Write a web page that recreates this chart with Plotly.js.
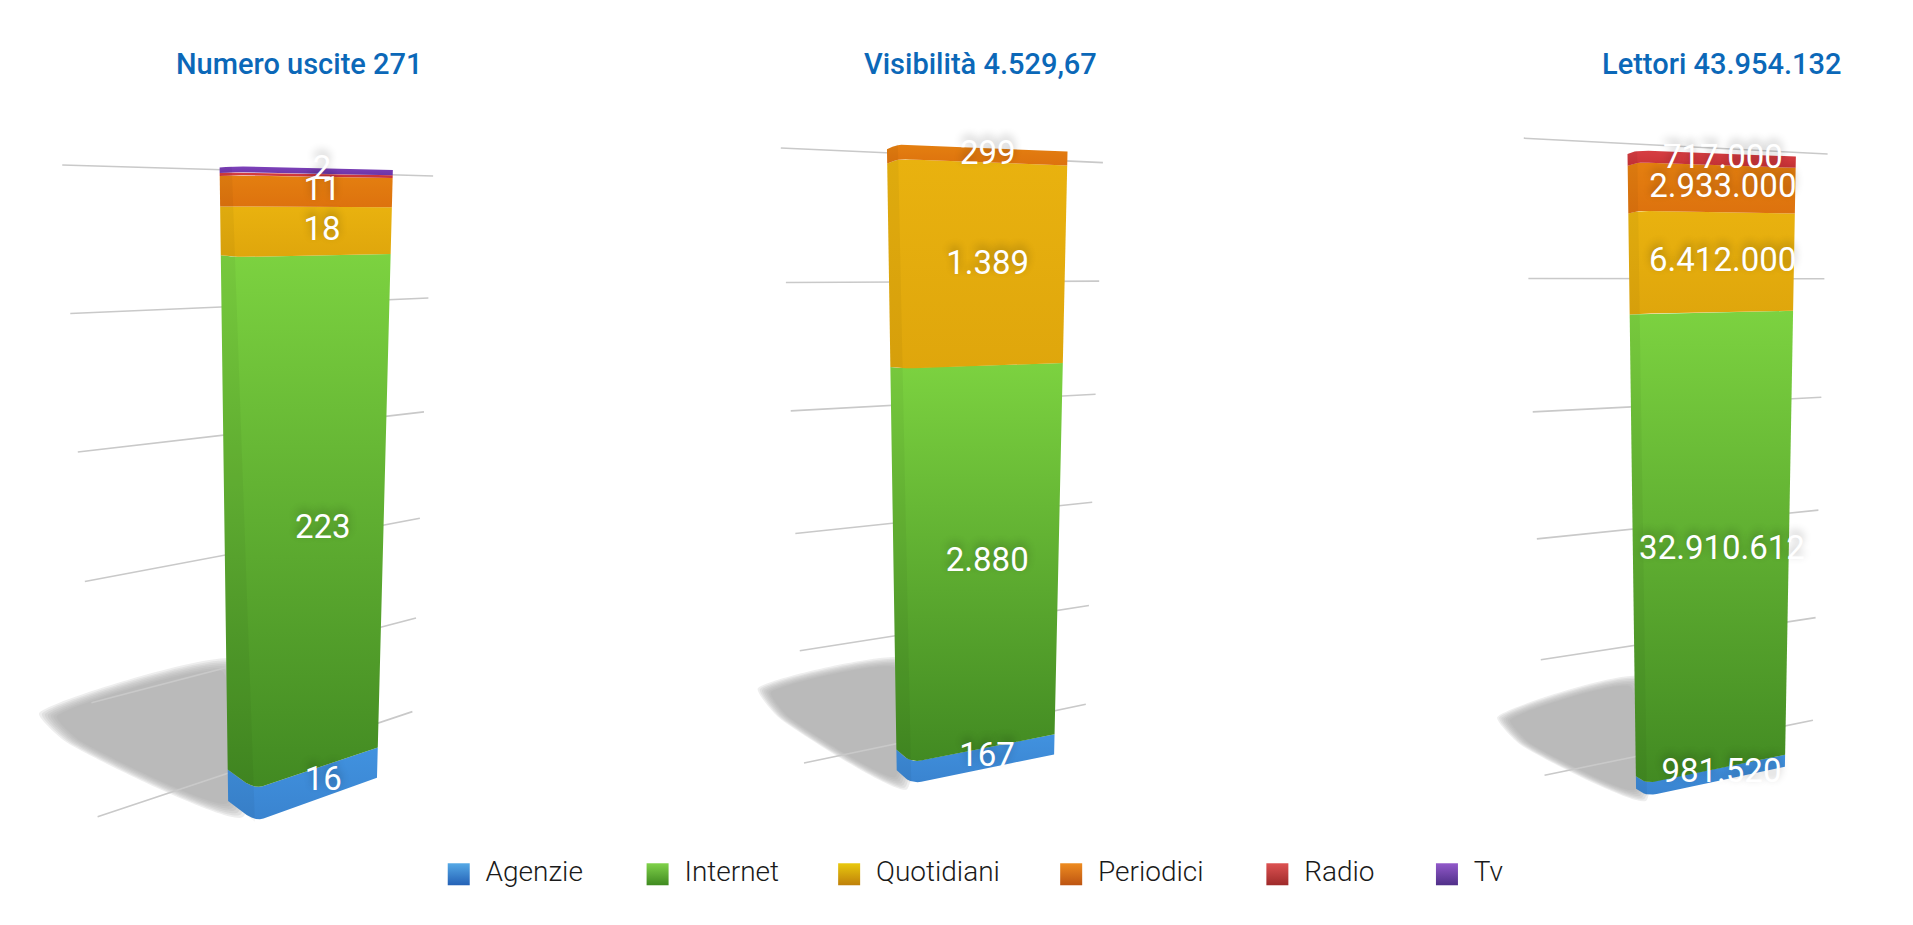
<!DOCTYPE html>
<html><head><meta charset="utf-8">
<script src="https://cdn.plot.ly/plotly-3.0.1.min.js"></script>
<style>html,body{margin:0;padding:0;background:#fff;overflow:hidden}#c{width:1913px;height:925px}</style>
</head><body><div id="c"></div>
<script>
const categories = ['Agenzie','Internet','Quotidiani','Periodici','Radio','Tv'];
const panelTitles = ['Numero uscite 271','Visibilità 4.529,67','Lettori 43.954.132'];
const usciteValues = [16,223,18,11,1,2];
const visibilitaValues = [167,2880,1389,93.67,0,0];
const lettoriValues = [981520,32910612,6412000,2933000,717000,0];
const usciteLabels = ['16','223','18','11','','2'];
const visibilitaLabels = ['167','2.880','1.389','299','',''];
const lettoriLabels = ['981.520','32.910.612','6.412.000','2.933.000','717.000',''];
const gridLevels = [0,0.2,0.4,0.6,0.8,1];

// colours: [top, bottom]
const barColors = [['#4192df','#3a84d0'],['#7cd240','#428a22'],['#e9b20f','#dfa60c'],['#e47f10','#dd720e'],['#d63e42','#c83236'],['#7d41ba','#6c35a6']];
const keyColors = [['#55a9e6','#2461b6'],['#80d24a','#3f8a20'],['#e9c90e','#bf800a'],['#ee8c20','#bd5412'],['#dd5252','#9e2a2a'],['#9259ca','#4f2f88']];

// view geometry in the drawing space of the axes
const views = [
 {total:271, k:1.2, lab:.56, titleX:245,
  L0:[187,655],L1:[180,137],M0:[209,672],M1:[190,136],R0:[309,636],R1:[322,139],
  gL0:[80,668],gL1:[51,135],gR0:[338,582],gR1:[355,144],gk:1.18,
  sh:[[188,545],[40,585],[60,606],[192,662]]},
 {total:4529.67, k:1.11, lab:.53, titleX:804,
  L0:[735,630],L1:[727,122],M0:[747,641],M1:[736,118],R0:[864,617],R1:[875,124],
  gL0:[659,624],gL1:[640,121],gR0:[890,576],gR1:[904,133],gk:1.12,
  sh:[[738,543],[627,565],[642,586],[738,640]]},
 {total:43954132, k:1.14, lab:.54, titleX:1411,
  L0:[1341,645],L1:[1334,126],M0:[1350,651],M1:[1342,123],R0:[1463,627],R1:[1472,128],
  gL0:[1266,634],gL1:[1249,113],gR0:[1486,589],gR1:[1498,126],gk:1.13,
  sh:[[1340,558],[1233,588],[1250,608],[1344,650]]}
];
const series = [usciteValues,visibilitaValues,lettoriValues];
const labels = [usciteLabels,visibilitaLabels,lettoriLabels];

const lerp=(a,b,t)=>[a[0]+(b[0]-a[0])*t,a[1]+(b[1]-a[1])*t];
const persp=(f,k)=>f/(f+(1-f)*k);
function section(g,t){
  const L=lerp(g.L0,g.L1,t),M=lerp(g.M0,g.M1,t),R=lerp(g.R0,g.R1,t);
  const a=lerp(L,M,.5),c=lerp(M,R,.07),pts=[L];
  for(let s=0;s<=1.001;s+=.2){pts.push(lerp(lerp(a,M,s),lerp(M,c,s),s));}
  pts.push(R);return pts;
}
const traces=[];
const poly=(pts,extra)=>Object.assign({x:pts.map(p=>p[0]).concat(pts[0][0]),y:pts.map(p=>p[1]).concat(pts[0][1]),
  mode:'lines',line:{width:0},fill:'toself',hoverinfo:'skip',showlegend:false},extra);

views.forEach((g,i)=>{
  // floor shadow, soft edge from stacked layers
  const c=g.sh.reduce((a,p)=>[a[0]+p[0]/4,a[1]+p[1]/4],[0,0]);
  [1.1,1.07,1.04,1.01,.98,.95,.92].forEach(s=>{
    traces.push(poly(g.sh.map(p=>[c[0]+(p[0]-c[0])*s,c[1]+(p[1]-c[1])*s]),
      {fillcolor:'rgba(170,170,170,.2)',line:{width:0,shape:'spline',smoothing:.5}}));
  });
  // grid
  gridLevels.forEach(f=>{
    const t=persp(f,g.gk),a=lerp(g.gL0,g.gL1,t),b=lerp(g.gR0,g.gR1,t);
    traces.push({x:[a[0],b[0]],y:[a[1],b[1]],mode:'lines',line:{color:'#c9c9c9',width:1.6},hoverinfo:'skip',showlegend:false});
  });
  // stacked segments
  let acc=0;const labX=[],labY=[],labT=[];
  series[i].forEach((v,j)=>{
    if(!v)return;
    const f0=acc/g.total,t0=persp(f0,g.k);acc+=v;const f1=Math.min(acc/g.total,1),t1=persp(f1,g.k);
    const low=section(g,t0),up=section(g,t1).reverse();
    traces.push(poly(low.concat(up),{fillcolor:barColors[j][0],name:categories[j],
      fillgradient:{type:'vertical',colorscale:[[0,barColors[j][1]],[1,barColors[j][0]]]}}));
    const tm=persp((f0+f1)/2,g.k),m=lerp(lerp(g.M0,g.M1,tm),lerp(g.R0,g.R1,tm),g.lab);
    if(labels[i][j]){labX.push(m[0]);labY.push(m[1]);labT.push(labels[i][j]);}
  });
  // left face tint
  traces.push(poly([g.L0,g.L1,g.M1,g.M0],{fillcolor:'rgba(0,0,0,.04)'}));
  traces.push({x:labX,y:labY,text:labT,mode:'text',textposition:'middle center',hoverinfo:'skip',showlegend:false,
    textfont:{family:'Roboto',size:33,color:'#ffffff',shadow:'0px -4px 8px rgba(0,0,0,.3)'}});
});

// key
const keyX=[367,530,687,869,1038,1177];
categories.forEach((c,j)=>{
  traces.push({x:[keyX[j]+9],y:[715],mode:'markers',hoverinfo:'skip',showlegend:false,
    marker:{symbol:'square',size:22,color:keyColors[j][0],gradient:{type:'vertical',color:keyColors[j][1]},line:{width:0}}});
  traces.push({x:[keyX[j]+31],y:[715],text:[c],mode:'text',textposition:'middle right',hoverinfo:'skip',showlegend:false,
    textfont:{family:'Roboto',weight:300,size:28,color:'#1a1a1a'}});
});

const layout={width:1913,height:925,margin:{l:0,r:0,t:0,b:0},paper_bgcolor:'#fff',plot_bgcolor:'#fff',showlegend:false,
  xaxis:{range:[0,1568],visible:false,fixedrange:true},yaxis:{range:[756.5,0],visible:false,fixedrange:true},
  annotations:views.map((g,i)=>({x:g.titleX,y:52,xref:'x',yref:'y',text:panelTitles[i],showarrow:false,xanchor:'center',yanchor:'middle',
    font:{family:'Roboto',size:29,weight:500,color:'#0b68b8'}}))};
Plotly.newPlot('c',traces,layout,{displayModeBar:false,staticPlot:true});
</script></body></html>
